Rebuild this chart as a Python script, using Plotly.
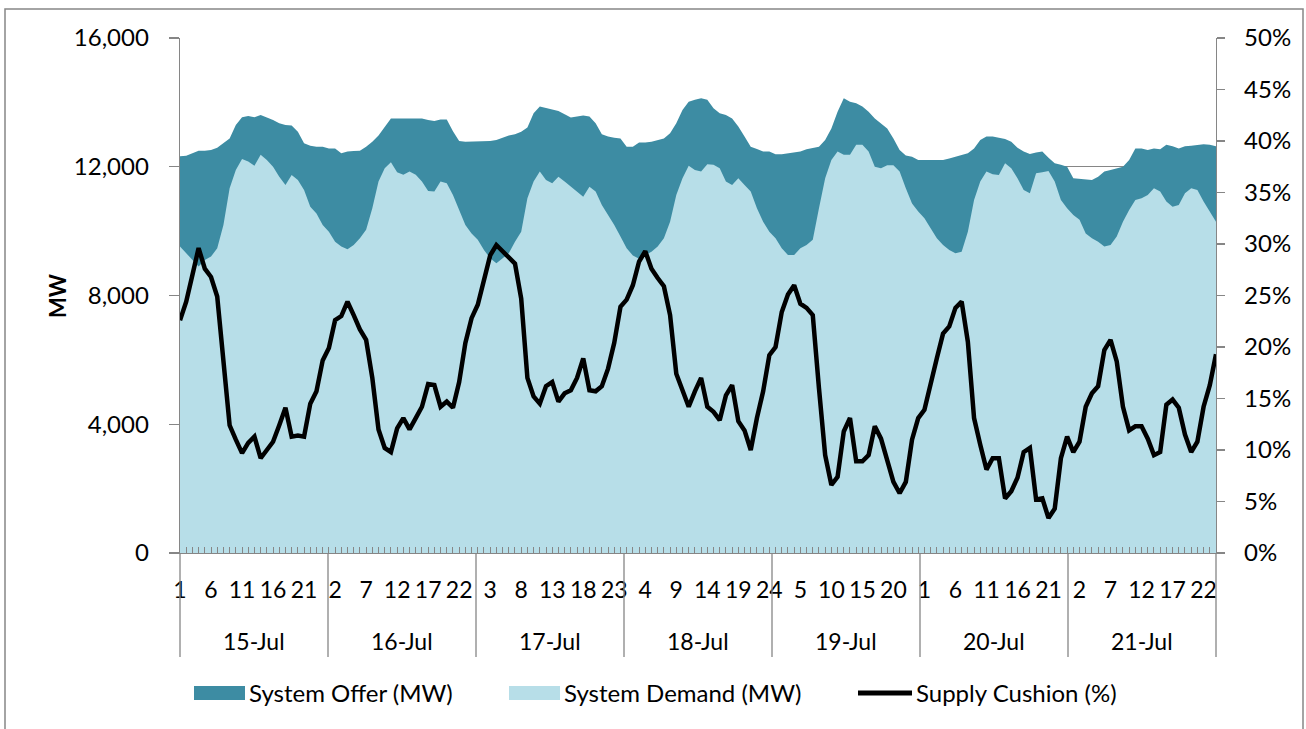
import plotly.graph_objects as go

days = ["15-Jul", "16-Jul", "17-Jul", "18-Jul", "19-Jul", "20-Jul", "21-Jul"]
hours_per_day = 24

system_offer = [
    12330, 12340, 12420, 12500, 12500, 12520, 12590, 12730, 12880, 13300, 13540, 13580,
    13540, 13610, 13540, 13450, 13350, 13300, 13280, 13090, 12730, 12650, 12625, 12625,
    12570, 12570, 12420, 12470, 12490, 12500, 12625, 12780, 12970, 13250, 13500, 13500,
    13500, 13500, 13500, 13500, 13450, 13420, 13470, 13470, 13100, 12800, 12780, 12780,
    12780, 12780, 12800, 12830, 12900, 12970, 13010, 13090, 13220, 13660, 13870, 13820,
    13760, 13730, 13630, 13530, 13560, 13590, 13560, 13350, 13010, 12940, 12900, 12880,
    12625, 12625, 12750, 12750, 12780, 12830, 12880, 13040, 13350, 13760, 14020, 14080,
    14130, 14080, 13820, 13660, 13610, 13500, 13250, 12940, 12625, 12550, 12470, 12470,
    12390, 12390, 12420, 12440, 12470, 12540, 12590, 12625, 12830, 13190, 13710, 14130,
    14020, 13970, 13870, 13710, 13500, 13350, 13190, 12880, 12520, 12350, 12310, 12210,
    12210, 12210, 12210, 12210, 12260, 12310, 12370, 12420, 12570, 12830, 12940, 12940,
    12900, 12860, 12780, 12590, 12470, 12400, 12440, 12470, 12280, 12110, 12060, 12000,
    11640, 11620, 11610, 11590, 11690, 11850, 11900, 11950, 12000, 12210, 12570, 12570,
    12520, 12570, 12540, 12680, 12640, 12570, 12640, 12650, 12680, 12700, 12680, 12640,
]

system_demand = [
    9520, 9310, 9100, 8900, 9100, 9210, 9470, 10190, 11330, 11900, 12240, 12160,
    12030, 12370, 12210, 12000, 11690, 11430, 11740, 11590, 11280, 10760, 10550, 10190,
    9980, 9670, 9520, 9440, 9570, 9780, 10040, 10710, 11540, 11950, 12140, 11830,
    11750, 11850, 11750, 11540, 11250, 11230, 11540, 11490, 11120, 10660, 10190, 9930,
    9730, 9410, 9160, 9000, 9160, 9310, 9670, 9980, 11020, 11540, 11850, 11590,
    11490, 11690, 11540, 11380, 11230, 11070, 11380, 11230, 10810, 10500, 10190, 9830,
    9470, 9240, 9140, 9260, 9360, 9520, 9780, 10290, 11120, 11640, 12030, 11900,
    11850, 12080, 12060, 11950, 11540, 11430, 11640, 11430, 11230, 10710, 10290, 9980,
    9780, 9470, 9260, 9260, 9470, 9570, 9730, 10710, 11640, 12210, 12470, 12370,
    12370, 12680, 12680, 12470, 12000, 11950, 12050, 12050, 11850, 11330, 10860, 10610,
    10400, 10090, 9780, 9570, 9410, 9310, 9360, 9980, 10970, 11540, 11850, 11770,
    11740, 12110, 11950, 11640, 11280, 11180, 11800, 11830, 11870, 11540, 10970, 10710,
    10500, 10350, 9930, 9780, 9670, 9520, 9570, 9830, 10290, 10660, 10970, 11020,
    11120, 11330, 11230, 10920, 10760, 10810, 11180, 11330, 11280, 10920, 10610, 10290,
]

supply_cushion_pct = [
    22.6, 24.4, 27.0, 29.6, 27.6, 26.8, 24.9, 18.6, 12.4, 11.0, 9.7, 10.7,
    11.3, 9.2, 10.0, 10.8, 12.4, 14.1, 11.3, 11.4, 11.3, 14.5, 15.7, 18.7,
    19.9, 22.6, 23.0, 24.4, 23.1, 21.7, 20.7, 17.0, 12.0, 10.2, 9.8, 12.1,
    13.1, 12.0, 13.1, 14.2, 16.4, 16.3, 14.2, 14.7, 14.1, 16.6, 20.4, 22.8,
    24.1, 26.7, 28.9, 29.9, 29.3, 28.8, 28.1, 24.7, 17.0, 15.2, 14.5, 16.2,
    16.6, 14.7, 15.5, 15.8, 17.0, 18.9, 15.8, 15.7, 16.2, 17.9, 20.4, 23.9,
    24.6, 26.0, 28.3, 29.3, 27.6, 26.7, 25.9, 23.1, 17.4, 15.8, 14.2, 15.7,
    17.0, 14.2, 13.7, 12.9, 15.3, 16.3, 12.8, 11.9, 10.0, 13.1, 15.7, 19.2,
    20.0, 23.4, 25.1, 26.0, 24.2, 23.8, 23.1, 16.0, 9.5, 6.6, 7.4, 11.8,
    13.1, 8.9, 8.9, 9.5, 12.3, 11.1, 8.9, 6.9, 5.8, 6.9, 11.0, 13.1,
    13.9, 16.6, 18.9, 21.3, 22.0, 23.8, 24.4, 20.5, 13.1, 10.5, 8.1, 9.2,
    9.2, 5.3, 6.0, 7.3, 9.8, 10.2, 5.2, 5.3, 3.4, 4.3, 9.2, 11.3,
    9.8, 10.8, 14.2, 15.5, 16.2, 19.7, 20.7, 18.6, 14.2, 11.9, 12.3, 12.3,
    11.1, 9.5, 9.8, 14.4, 14.9, 14.1, 11.5, 9.8, 10.8, 14.2, 16.3, 19.3,
]

n = len(system_offer)
idx = list(range(n))
hour_labels = [str(i % hours_per_day + 1) for i in idx]
label_step = 5
tick_idx = idx[::label_step]
tick_text = [hour_labels[i] for i in tick_idx]

OFFER_C = "#3D8CA3"
DEMAND_C = "#B7DEE8"
AXIS_C = "#868686"
FONT = "Lato"

W, H = 1306, 729
# plot area in window pixels
L, R, T, B = 180, 1216, 38, 553
pw, ph = R - L, B - T


def px(xp):
    return (xp - L) / pw


def py(yp):
    return (B - yp) / ph


fig = go.Figure()
fig.add_trace(go.Scatter(
    x=idx, y=system_offer, name="System Offer (MW)", mode="lines",
    line=dict(width=0, color=OFFER_C), fill="tozeroy", fillcolor=OFFER_C,
    showlegend=False, hoverinfo="skip"))
fig.add_trace(go.Scatter(
    x=idx, y=system_demand, name="System Demand (MW)", mode="lines",
    line=dict(width=0, color=DEMAND_C), fill="tozeroy", fillcolor=DEMAND_C,
    showlegend=False, hoverinfo="skip"))
fig.add_trace(go.Scatter(
    x=idx, y=[v / 100 for v in supply_cushion_pct], name="Supply Cushion (%)",
    mode="lines", line=dict(width=4.5, color="black"), yaxis="y2",
    showlegend=False, hoverinfo="skip"))

fig.update_layout(
    width=W, height=H,
    margin=dict(l=L, r=W - R, t=T, b=H - B, pad=0),
    paper_bgcolor="white", plot_bgcolor="white",
    font=dict(family=FONT, size=24, color="black"),
    xaxis=dict(
        range=[0, n - 1], tickmode="array", tickvals=tick_idx, ticktext=tick_text,
        showline=True, linecolor=AXIS_C, linewidth=1.3, mirror=False,
        ticks="inside", ticklen=6, tickcolor=AXIS_C, tickwidth=1,
        minor=dict(tickmode="linear", tick0=0, dtick=1, ticks="inside",
                   ticklen=6, tickcolor=AXIS_C, tickwidth=1, showgrid=False),
        tickfont=dict(size=23), ticklabelstandoff=16, showgrid=False,
        zeroline=False, fixedrange=True,
    ),
    yaxis=dict(
        range=[0, 16000], tickmode="linear", tick0=0, dtick=4000,
        tickformat=",", showline=True, linecolor=AXIS_C, linewidth=1.3,
        ticks="outside", ticklen=10, tickcolor=AXIS_C, tickwidth=1.3,
        showgrid=True, gridcolor=AXIS_C, gridwidth=1.3, zeroline=False,
        tickfont=dict(size=24), ticklabelstandoff=15,
    ),
    yaxis2=dict(
        range=[0, 0.5], tickmode="linear", tick0=0, dtick=0.05,
        tickformat=".0%", overlaying="y", side="right", showline=True,
        linecolor=AXIS_C, linewidth=1.3, ticks="outside", ticklen=8,
        tickcolor=AXIS_C, tickwidth=1.3, showgrid=False, zeroline=False,
        tickfont=dict(size=24), ticklabelstandoff=14,
    ),
)

shapes = []
# outer chart border
shapes.append(dict(type="rect", xref="paper", yref="paper",
                   x0=px(5), x1=px(1303), y0=py(760), y1=py(9),
                   line=dict(color=AXIS_C, width=1.5), fillcolor="rgba(0,0,0,0)",
                   layer="above"))
# day group dividers
nd = len(days)
for k in range(nd + 1):
    shapes.append(dict(type="line", xref="x domain", yref="paper",
                       x0=k / nd, x1=k / nd, y0=0, y1=py(657),
                       line=dict(color=AXIS_C, width=1.3)))

annotations = []
for k, d in enumerate(days):
    annotations.append(dict(text=d, xref="x domain", yref="paper",
                            x=(k + 0.5) / nd, y=py(641), showarrow=False,
                            xanchor="center", yanchor="middle",
                            font=dict(size=23, family=FONT)))
annotations.append(dict(text="<b>MW</b>", xref="paper", yref="paper",
                        x=px(57), y=py(296), textangle=-90, showarrow=False,
                        xanchor="center", yanchor="middle",
                        font=dict(size=22, family=FONT)))

# legend (drawn manually to match placement)
leg_y = 693
legend_items = [
    ("System Offer (MW)", "rect", OFFER_C, 194, 245),
    ("System Demand (MW)", "rect", DEMAND_C, 509, 560),
    ("Supply Cushion (%)", "line", "black", 858, 912),
]
for text, kind, col, x0, x1 in legend_items:
    if kind == "rect":
        shapes.append(dict(type="rect", xref="paper", yref="paper",
                           x0=px(x0), x1=px(x1), y0=py(leg_y + 7), y1=py(leg_y - 7),
                           line=dict(width=0), fillcolor=col))
    else:
        shapes.append(dict(type="line", xref="paper", yref="paper",
                           x0=px(x0), x1=px(x1), y0=py(leg_y), y1=py(leg_y),
                           line=dict(width=5, color=col)))
    annotations.append(dict(text=text, xref="paper", yref="paper",
                            x=px(x1 + 2), y=py(leg_y), showarrow=False,
                            xanchor="left", yanchor="middle",
                            font=dict(size=24, family=FONT)))

fig.update_layout(shapes=shapes, annotations=annotations)
fig.write_html(
    "out.html",
    config={"displayModeBar": False, "staticPlot": True},
    post_script="document.body.style.margin='0';document.body.style.padding='0';"
                "document.body.style.overflow='hidden';",
)
